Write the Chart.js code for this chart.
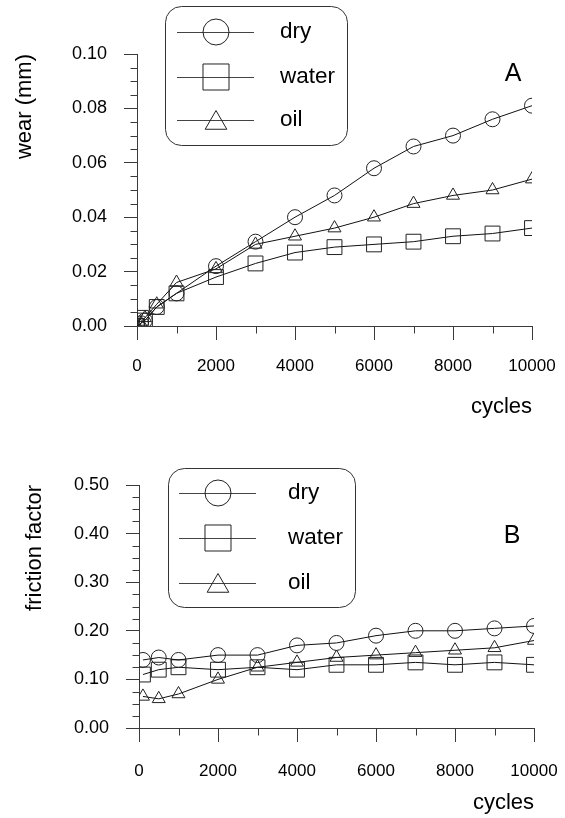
<!DOCTYPE html>
<html><head><meta charset="utf-8">
<script src="https://cdn.jsdelivr.net/npm/chart.js@4.4.1/dist/chart.umd.min.js"></script>
<style>
html,body{margin:0;padding:0;background:#fff;}
#wrap{position:relative;width:565px;height:818px;overflow:hidden;background:#fff;}
canvas{position:absolute;left:0;}
</style></head><body>
<div id="wrap">
<canvas id="cA" width="565" height="420" style="top:0px"></canvas>
<canvas id="cB" width="565" height="398" style="top:420px"></canvas>
</div>
<script>
// ---- data ----
const seriesNames = ['dry', 'water', 'oil'];
const cycleTicks = [0, 2000, 4000, 6000, 8000, 10000];
const cycleMinor = [1000, 3000, 5000, 7000, 9000];

const wearCycles = [0, 100, 200, 500, 1000, 2000, 3000, 4000, 5000, 6000, 7000, 8000, 9000, 10000];
const wearDry    = [0, 0.001, 0.002, 0.007, 0.012, 0.022, 0.031, 0.040, 0.048, 0.058, 0.066, 0.070, 0.076, 0.081];
const wearWater  = [0, 0.003, 0.002, 0.007, 0.012, 0.018, 0.023, 0.027, 0.029, 0.030, 0.031, 0.033, 0.034, 0.036];
const wearOil    = [0, 0.001, 0.003, 0.008, 0.016, 0.021, 0.030, 0.033, 0.036, 0.040, 0.045, 0.048, 0.050, 0.054];
const wearTicks  = [0, 0.02, 0.04, 0.06, 0.08, 0.10];
const wearMinor  = [0.005, 0.01, 0.015, 0.025, 0.03, 0.035, 0.045, 0.05, 0.055, 0.065, 0.07, 0.075, 0.085, 0.09, 0.095];

const frictionCycles = [100, 500, 1000, 2000, 3000, 4000, 5000, 6000, 7000, 8000, 9000, 10000];
const frictionDry    = [0.14, 0.145, 0.14, 0.15, 0.15, 0.17, 0.175, 0.19, 0.20, 0.20, 0.205, 0.21];
const frictionWater  = [0.11, 0.12, 0.125, 0.12, 0.125, 0.12, 0.13, 0.13, 0.135, 0.13, 0.135, 0.13];
const frictionOil    = [0.065, 0.06, 0.07, 0.10, 0.125, 0.135, 0.145, 0.15, 0.155, 0.16, 0.165, 0.18];
const frictionTicks  = [0, 0.10, 0.20, 0.30, 0.40, 0.50];
const frictionMinor  = [0.025, 0.05, 0.075, 0.125, 0.15, 0.175, 0.225, 0.25, 0.275, 0.325, 0.35, 0.375, 0.425, 0.45, 0.475];

// ---- styles ----
const FONT = "'Liberation Sans', Arial, Helvetica, sans-serif";
Chart.defaults.font.family = FONT;
Chart.defaults.color = '#000';
const pointStyles = ['circle', 'rect', 'triangle'];
const pointRadii = [7.5, 10.5, 7.5];
const legendRadii = [13, 18.4, 12.5];
const AXIS = '#3a3a3a';

function drawMarker(ctx, style, r, x, y) {
  if (Chart.helpers && Chart.helpers.drawPoint) {
    Chart.helpers.drawPoint(ctx, {pointStyle: style, radius: r, rotation: 0, borderWidth: 1}, x, y);
    return;
  }
  ctx.beginPath();
  if (style === 'circle') ctx.arc(x, y, r, 0, Math.PI * 2);
  else if (style === 'rect') { const s = r * Math.SQRT1_2; ctx.rect(x - s, y - s, 2 * s, 2 * s); }
  else { ctx.moveTo(x, y - r); ctx.lineTo(x + r * 0.866, y + r / 2); ctx.lineTo(x - r * 0.866, y + r / 2); ctx.closePath(); }
  ctx.stroke();
}

const minorTicksPlugin = {
  id: 'minorTicks',
  afterDraw(chart, args, o) {
    const ctx = chart.ctx, xs = chart.scales.x, ys = chart.scales.y;
    ctx.save();
    ctx.strokeStyle = AXIS; ctx.lineWidth = 1;
    ctx.beginPath();
    const yb = Math.round(xs.top) + 0.5;
    o.xMinor.forEach(v => { const px = Math.round(xs.getPixelForValue(v)) + 0.5; ctx.moveTo(px, yb); ctx.lineTo(px, yb + o.len); });
    const xl = Math.round(ys.right) + 0.5;
    o.yMinor.forEach(v => { const py = Math.round(ys.getPixelForValue(v)) + 0.5; ctx.moveTo(xl, py); ctx.lineTo(xl - o.len, py); });
    ctx.stroke();
    ctx.restore();
  }
};

const boxLegendPlugin = {
  id: 'boxLegend',
  afterDraw(chart, args, o) {
    const ctx = chart.ctx;
    ctx.save();
    const [bx, by, bw, bh] = o.box;
    ctx.strokeStyle = '#333'; ctx.lineWidth = 1;
    ctx.beginPath();
    ctx.roundRect(bx + 0.5, by + 0.5, bw, bh, 16);
    ctx.stroke();
    chart.data.datasets.forEach((ds, i) => {
      const y = o.rows[i];
      ctx.strokeStyle = '#444'; ctx.lineWidth = 1;
      ctx.beginPath();
      ctx.moveTo(o.lineX[0], Math.round(y) + 0.5); ctx.lineTo(o.lineX[1], Math.round(y) + 0.5);
      ctx.stroke();
      ctx.strokeStyle = '#222';
      ctx.fillStyle = 'rgba(0,0,0,0)';
      drawMarker(ctx, pointStyles[i], legendRadii[i], o.markerX, y + (pointStyles[i] === 'triangle' ? 3 : 0));
      ctx.fillStyle = '#000';
      ctx.font = o.fontSize + 'px ' + FONT;
      ctx.textAlign = 'left'; ctx.textBaseline = 'middle';
      ctx.fillText(ds.label, o.textX, y);
    });
    ctx.font = o.letterSize + 'px ' + FONT;
    ctx.textAlign = 'center'; ctx.textBaseline = 'middle';
    ctx.fillText(o.letter, o.letterPos[0], o.letterPos[1]);
    ctx.restore();
  }
};

function build(id, cfg) {
  const datasets = cfg.series.map((vals, i) => ({
    label: seriesNames[i],
    data: vals.map((v, j) => ({x: cfg.cycles[j], y: v})),
    borderColor: '#111', borderWidth: 1, backgroundColor: 'rgba(0,0,0,0)',
    pointStyle: pointStyles[i], pointRadius: pointRadii[i],
    pointBorderColor: '#222', pointBorderWidth: 1, pointBackgroundColor: 'rgba(0,0,0,0)',
    tension: 0, fill: false
  }));
  return new Chart(document.getElementById(id), {
    type: 'line',
    data: {datasets},
    options: {
      responsive: false, animation: false, events: [],
      layout: {padding: {left: 0, right: cfg.padR, top: cfg.padT, bottom: 0}},
      plugins: {
        legend: {display: false}, tooltip: {enabled: false},
        minorTicks: {xMinor: cycleMinor, yMinor: cfg.yMinor, len: 7},
        boxLegend: cfg.legend
      },
      scales: {
        x: {
          type: 'linear', min: 0, max: 10000,
          afterBuildTicks: s => { s.ticks = cycleTicks.map(v => ({value: v})); },
          afterFit: s => { s.height = cfg.xH; s.paddingLeft = 0; s.paddingRight = 0; },
          ticks: {callback: v => String(v), font: {size: 17}, color: '#000', padding: cfg.xTickPad, maxRotation: 0, autoSkip: false},
          grid: {drawOnChartArea: false, drawTicks: true, tickLength: 14, color: AXIS, tickColor: AXIS},
          border: {display: true, color: AXIS, width: 1},
          title: {display: true, text: 'cycles', align: 'end', font: {size: 22}, color: '#000', padding: {top: 0, bottom: cfg.xTitlePad}}
        },
        y: {
          type: 'linear', min: cfg.yTicks[0], max: cfg.yTicks[cfg.yTicks.length - 1],
          afterBuildTicks: s => { s.ticks = cfg.yTicks.map(v => ({value: v})); },
          afterFit: s => { s.width = cfg.yW; s.paddingTop = 0; s.paddingBottom = 0; },
          ticks: {callback: v => Number(v).toFixed(2), font: {size: 18}, color: '#000', padding: 17, autoSkip: false},
          grid: {drawOnChartArea: false, drawTicks: true, tickLength: 13, color: AXIS, tickColor: AXIS},
          border: {display: true, color: AXIS, width: 1},
          title: {display: true, text: cfg.yTitle, align: 'end', font: {size: 22}, color: '#000', padding: {top: cfg.yTitlePad, bottom: 0}}
        }
      }
    },
    plugins: [minorTicksPlugin, boxLegendPlugin]
  });
}

build('cA', {
  cycles: wearCycles, series: [wearDry, wearWater, wearOil],
  yTicks: wearTicks, yMinor: wearMinor, yTitle: 'wear (mm)',
  padR: 33, padT: 54, xH: 94, yW: 137, xTickPad: 16, xTitlePad: 0, yTitlePad: 12,
  legend: {box: [165, 6, 182, 139], rows: [32, 77, 120], lineX: [177, 254], markerX: 216, textX: 280,
           fontSize: 22.5, letter: 'A', letterSize: 25, letterPos: [513, 74]}
});
build('cB', {
  cycles: frictionCycles, series: [frictionDry, frictionWater, frictionOil],
  yTicks: frictionTicks, yMinor: frictionMinor, yTitle: 'friction factor',
  padR: 31, padT: 65, xH: 90, yW: 139, xTickPad: 19, xTitlePad: 2, yTitlePad: 22,
  legend: {box: [168, 48, 187, 139], rows: [73, 118, 163], lineX: [179, 256], markerX: 218, textX: 288,
           fontSize: 22.5, letter: 'B', letterSize: 25, letterPos: [512, 116]}
});
</script>
</body></html>
